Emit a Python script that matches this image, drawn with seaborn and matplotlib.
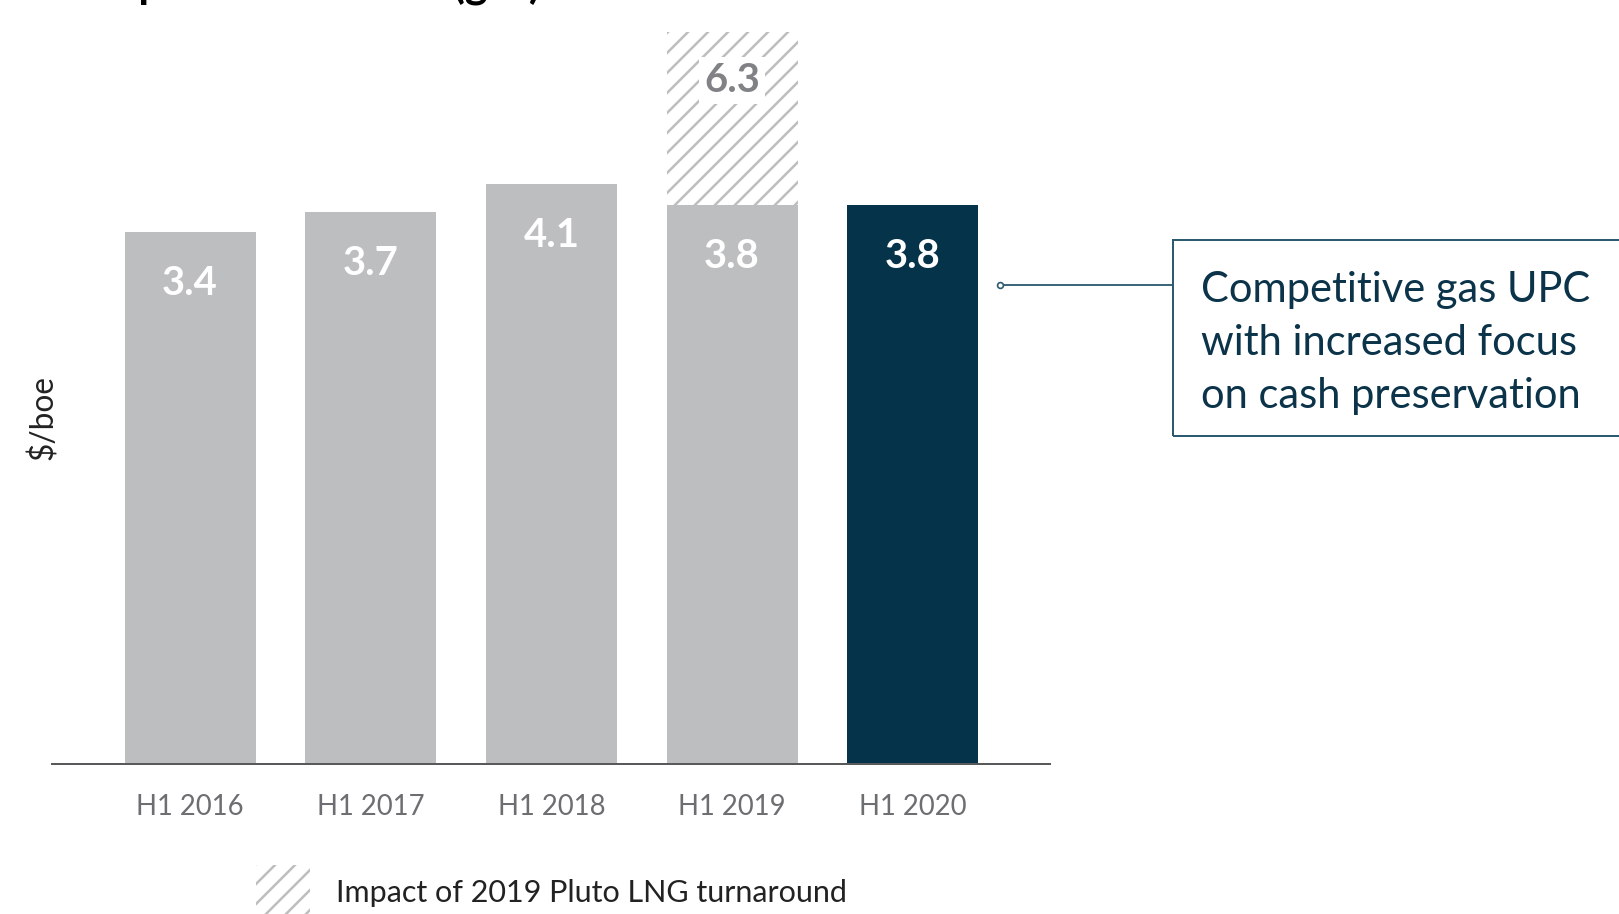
import numpy as np
import pandas as pd
import seaborn as sns
import matplotlib
matplotlib.use("Agg")
import matplotlib.pyplot as plt
from matplotlib.patches import Rectangle
from matplotlib.lines import Line2D

# ---- data -------------------------------------------------------------
periods = ["H1 2016", "H1 2017", "H1 2018", "H1 2019", "H1 2020"]
upc = [3.4, 3.7, 4.1, 3.8, 3.8]                       # gas unit production cost, $/boe
upc_with_turnaround = [np.nan, np.nan, np.nan, 6.3, np.nan]
bar_colors = ["#bcbec0", "#bcbec0", "#bcbec0", "#bcbec0", "#04334a"]
callout_lines = ["Competitive gas UPC", "with increased focus", "on cash preservation"]
legend_label = "Impact of 2019 Pluto LNG turnaround"
title = "Unit production cost (gas)"
y_label = "$/boe"

AXIS_FLOOR = -4.3   # value axis does not start at zero

W, H, DPI = 1619, 914, 120
sns.set_theme(style="white")
plt.rcParams["font.family"] = ["Lato", "DejaVu Sans"]
plt.rcParams["hatch.linewidth"] = 1.5

fig = plt.figure(figsize=(W / DPI, H / DPI), dpi=DPI)
ax = fig.add_axes([52 / W, 1 - 764 / H, (1050 - 52) / W, (764 - 32) / H])

df = pd.DataFrame({"period": periods, "upc": upc, "turn": upc_with_turnaround})
df["upc_h"] = df["upc"] - AXIS_FLOOR
df["turn_h"] = df["turn"] - AXIS_FLOOR

# hatched turnaround impact (drawn behind the solid bars)
sns.barplot(data=df, x="period", y="turn_h", order=periods, bottom=AXIS_FLOOR,
            color="white", edgecolor="#bcbec0", hatch="//", linewidth=0,
            width=0.725, ax=ax)
sns.barplot(data=df, x="period", y="upc_h", hue="period", order=periods,
            hue_order=periods, palette=bar_colors, bottom=AXIS_FLOOR,
            linewidth=0, width=0.725, legend=False, saturation=1, ax=ax)

ax.set_xlim(-0.764, 4.76)
ax.set_ylim(AXIS_FLOOR, 6.3)

# value labels
for i, v in enumerate(upc):
    ax.annotate(f"{v:.1f}", (i, v), xytext=(0, -31), textcoords="offset points",
                ha="center", va="center", color="white", fontsize=24,
                fontweight="bold")
for i, v in enumerate(upc_with_turnaround):
    if not np.isnan(v):
        ax.annotate(f"{v:.1f}", (i, v), xytext=(0, -29), textcoords="offset points",
                    ha="center", va="center", color="#808285", fontsize=24,
                    fontweight="bold",
                    bbox=dict(boxstyle="square,pad=0.12", fc="white", ec="none"))

# axes styling
for s in ["top", "right", "left"]:
    ax.spines[s].set_visible(False)
ax.spines["bottom"].set_color("#58595b")
ax.spines["bottom"].set_linewidth(1.2)
ax.set_yticks([])
ax.set_xlabel("")
ax.set_ylabel("")
ax.tick_params(axis="x", length=0, pad=18, labelsize=16.5, labelcolor="#6d6e71")

fig.text(43 / W, 1 - 418 / H, y_label, rotation=90, ha="center", va="center",
         fontsize=19, color="#222222")

# title sits mostly above the top edge
fig.text(44 / W, 1 + 2 / H, title, ha="left", va="baseline", fontsize=26,
         fontweight="bold", color="black")

# callout box with connector
ink = "#0b3349"
edge = "#2c5a70"
fig.add_artist(Rectangle((1173 / W, 1 - 436 / H), 500 / W, 196 / H,
                         transform=fig.transFigure, fill=False, ec=edge, lw=1.2))
fig.add_artist(Line2D([1003 / W, 1173 / W], [1 - 285 / H, 1 - 285 / H],
                      transform=fig.transFigure, color=edge, lw=1.1))
fig.add_artist(Line2D([1000 / W], [1 - 285 / H], transform=fig.transFigure,
                      marker="o", ms=3.5, mfc="white", mec=edge, mew=1.0, lw=0))
for k, line in enumerate(callout_lines):
    fig.text(1201 / W, 1 - (290 + 53 * k) / H, line, ha="left", va="center",
             fontsize=25, color=ink)

# legend
fig.add_artist(Rectangle((256 / W, 0), 54 / W, 49 / H, transform=fig.transFigure,
                         facecolor="white", edgecolor="#bcbec0", hatch="//", lw=0))
fig.text(336 / W, 21 / H, legend_label, ha="left", va="center", fontsize=18.3,
         color="#222222")

fig.savefig("out.png", dpi=DPI)
